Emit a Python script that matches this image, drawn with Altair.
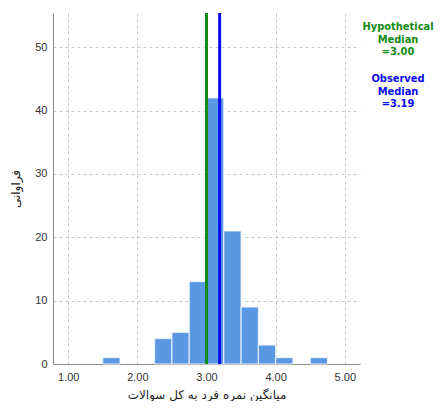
import altair as alt
import pandas as pd

bin_start = [1.50, 2.25, 2.50, 2.75, 3.00, 3.25, 3.50, 3.75, 4.00, 4.50]
bin_end = [1.75, 2.50, 2.75, 3.00, 3.25, 3.50, 3.75, 4.00, 4.25, 4.75]
counts = [1, 4, 5, 13, 42, 21, 9, 3, 1, 1]
medians = [3.00, 3.19]
median_names = ["Hypothetical", "Observed"]
median_colors = ["#138a13", "#0a0af5"]
x_ticks = [1, 2, 3, 4, 5]
y_ticks = [0, 10, 20, 30, 40, 50]

df = pd.DataFrame({"start": bin_start, "end": bin_end, "count": counts})
med = pd.DataFrame({"m": medians, "name": median_names, "color": median_colors})

xscale = alt.Scale(domain=[0.78, 5.22], nice=False, zero=False)
yscale = alt.Scale(domain=[0, 55.4], nice=False)

bars = alt.Chart(df).mark_bar(
    color="#5a98e3", stroke="#eef4fb", strokeWidth=1
).encode(
    x=alt.X("start:Q", scale=xscale,
            axis=alt.Axis(values=x_ticks, format=".2f", title="میانگین نمره فرد به کل سوالات",
                          grid=True, gridDash=[3, 3], gridColor="#c8c8c8",
                          ticks=False, domain=True, domainColor="#8a8a8a",
                          labelFont="Liberation Sans", labelFontSize=11, labelColor="#333333",
                          labelPadding=7, titleFont="DejaVu Sans", titleFontSize=12,
                          titleFontWeight="normal", titleColor="#222222", titlePadding=7)),
    x2="end:Q",
    y=alt.Y("count:Q", scale=yscale,
            axis=alt.Axis(values=y_ticks, title="فراوانی", grid=True, gridDash=[3, 3],
                          gridColor="#c8c8c8", ticks=False, domain=True, domainColor="#8a8a8a",
                          labelFont="Liberation Sans", labelFontSize=11, labelColor="#333333",
                          labelPadding=6, titleFont="DejaVu Sans", titleFontSize=12,
                          titleFontWeight="normal", titleColor="#222222", titlePadding=12)),
    y2=alt.datum(0),
)

rules = alt.Chart(med).mark_rule(strokeWidth=3).encode(
    x=alt.X("m:Q", scale=xscale),
    color=alt.Color("color:N", scale=None),
)

ann_h = alt.Chart(pd.DataFrame({"t": [["Hypothetical", "Median", "=3.00"]]})).mark_text(
    font="DejaVu Sans Condensed", fontSize=11, fontWeight="bold", color=median_colors[0],
    align="center", baseline="top", lineHeight=12.5
).encode(x=alt.value(345), y=alt.value(8), text="t")

ann_o = alt.Chart(pd.DataFrame({"t": [["Observed", "Median", "=3.19"]]})).mark_text(
    font="DejaVu Sans Condensed", fontSize=11, fontWeight="bold", color=median_colors[1],
    align="center", baseline="top", lineHeight=12.5
).encode(x=alt.value(345), y=alt.value(60), text="t")

chart = alt.layer(bars, rules, ann_h, ann_o).properties(
    width=307, height=351,
    autosize=alt.AutoSizeParams(type="none"),
    padding={"left": 45, "top": 5, "right": 76, "bottom": 37},
).configure_view(stroke=None)

chart.save("out.html", embed_options={"renderer": "svg", "actions": False})
